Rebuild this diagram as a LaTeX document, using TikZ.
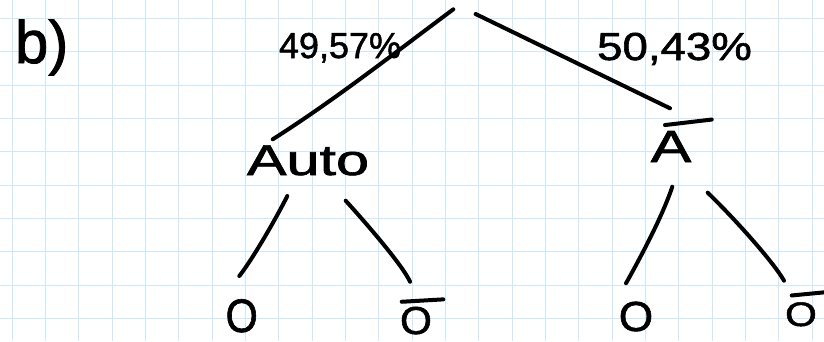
\documentclass[tikz,border=0pt]{standalone}
\usepackage{fontspec}
\setmainfont{Liberation Sans}
\newfontfamily\hand{Liberation Sans}[FakeBold=1.4]
\usetikzlibrary{calc}
\definecolor{gridblue}{RGB}{204,232,250}
\begin{document}
\begin{tikzpicture}[x=1pt,y=-1pt,
  gridline/.style={draw=gridblue,line width=1pt},
  pen/.style={draw=black,line width=4pt,line cap=round,line join=round},
  lbl/.style={inner sep=0pt,outer sep=0pt,anchor=base,text=black}]
\useasboundingbox[fill=white] (0,0) rectangle (824,341);
\foreach \i in {0,...,24} \draw[gridline] (12+33.333*\i,0) -- (12+33.333*\i,341);
\foreach \j in {0,...,9} \draw[gridline] (0,18.333+33.333*\j) -- (824,18.333+33.333*\j);

% labels
\node[lbl,anchor=base west,font=\hand\fontsize{60}{60}\selectfont] (part) at (15,63) {b)};
\node[lbl,font=\hand\fontsize{36}{36}\selectfont] (pl) at (340,58) {49,57\%};
\node[lbl,font=\hand\fontsize{39}{39}\selectfont] (pr) at (674.5,60) {\scalebox{1.17}[1]{50,43\%}};
\node[lbl,font=\hand\fontsize{43}{43}\selectfont] (auto) at (308,175) {\scalebox{1.38}[1]{Auto}};
\node[lbl,font=\hand\fontsize{45}{45}\selectfont] (nota) at (671,162) {\scalebox{1.35}[1]{A}};
\node[lbl,font=\hand\fontsize{47}{47}\selectfont] (o1) at (241.7,332) {\scalebox{0.88}[1]{O}};
\node[lbl,font=\hand\fontsize{39}{39}\selectfont] (o2) at (416,334) {\scalebox{1.05}[1]{O}};
\node[lbl,font=\hand\fontsize{42}{42}\selectfont] (o3) at (636,331) {\scalebox{1.05}[1]{O}};
\node[lbl,font=\hand\fontsize{34}{34}\selectfont] (o4) at (801,326) {\scalebox{1.2}[1]{O}};

% overbars
\draw[pen] ($(nota.north)+(-6,-6)$) -- ($(nota.north)+(40.7,-11.5)$);
\draw[pen] ($(o2.north)+(-14.3,-5)$) -- ($(o2.north)+(27.3,-7.4)$);
\draw[pen] ($(o4.north)+(-9.3,-6.8)$) -- ($(o4.north)+(25,-10.1)$);

% connector end points
\coordinate (rootL) at (453.3,9.3);
\coordinate (rootR) at (475.6,14);
\coordinate (autoIn) at (272.7,139.3);
\coordinate (notaIn) at (670,108.3);
\coordinate (autoL) at (287.3,196);
\coordinate (autoR) at (345.7,200.7);
\coordinate (notaL) at (672.3,186.7);
\coordinate (notaR) at (707.7,192.7);
\coordinate (o1In) at (239.3,276);
\coordinate (o2In) at (410,281.7);
\coordinate (o3In) at (626,283.3);
\coordinate (o4In) at (784,280.7);

% connectors
\draw[pen] (rootL) .. controls (393,54.3) and (332.7,101.3) .. (autoIn);
\draw[pen] (rootR) -- (notaIn);
\draw[pen] (autoL) .. controls (275.3,220) and (251.3,261) .. (o1In);
\draw[pen] (autoR) .. controls (365.7,222.7) and (403,265.7) .. (o2In);
\draw[pen] (notaL) .. controls (662.3,216.7) and (640,258.3) .. (o3In);
\draw[pen] (notaR) .. controls (734.7,218.7) and (774,262.7) .. (o4In);
\end{tikzpicture}
\end{document}
